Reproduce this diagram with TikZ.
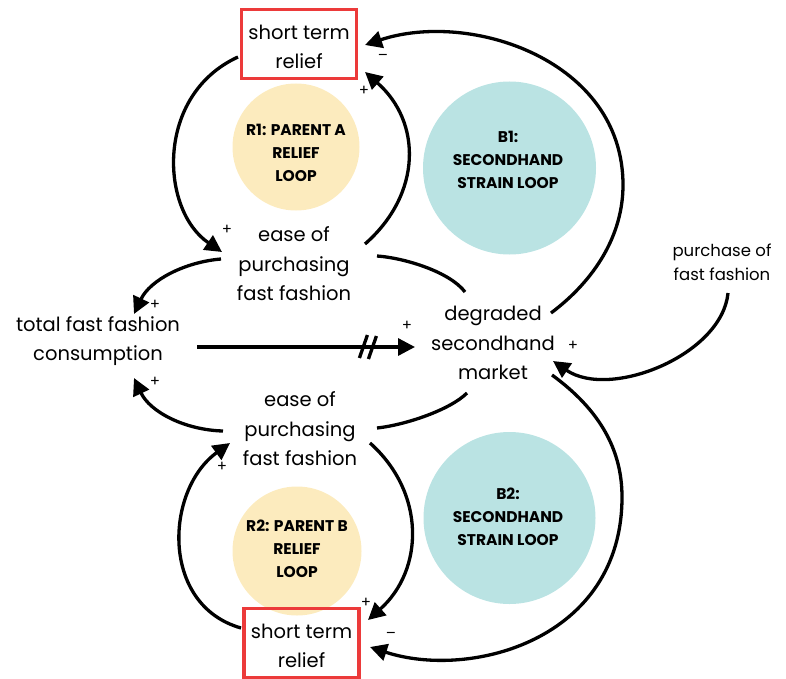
\documentclass[tikz,border=0pt]{standalone}
\usepackage{fontspec}
\setmainfont{Poppins}
\usetikzlibrary{arrows.meta}
\definecolor{reliefred}{RGB}{236,58,58}
\definecolor{loopyellow}{RGB}{252,235,190}
\definecolor{looptealc}{RGB}{186,227,227}
\begin{document}
\begin{tikzpicture}[x=1pt,y=-1pt,
  var/.style={align=center,inner sep=0pt,font=\fontsize{19.5}{29.5}\selectfont},
  smallvar/.style={align=center,inner sep=0pt,font=\fontsize{16.5}{24}\selectfont},
  reliefbox/.style={draw=reliefred,line width=3.5pt,minimum width=115pt,minimum height=69pt},
  loopbg/.style={circle,inner sep=0pt},
  looplabel/.style={align=center,inner sep=0pt,font=\fontsize{15.5}{23}\selectfont\bfseries},
  sign/.style={inner sep=0pt,font=\fontsize{15}{16}\selectfont},
  link/.style={line width=3.3pt},
  causal/.style={link,-{Triangle[length=17pt,width=17pt]}}
]
\useasboundingbox (0,0) rectangle (786,679);

% loop markers
\node[loopbg,fill=loopyellow,minimum size=127pt] (r1) at (296,147) {};
\node[looplabel] (r1t) at (296,153) {R1: PARENT A\\RELIEF\\LOOP};
\node[loopbg,fill=loopyellow,minimum size=129pt] (r2) at (297,551) {};
\node[looplabel] (r2t) at (297,549) {R2: PARENT B\\RELIEF\\LOOP};
\node[loopbg,fill=looptealc,minimum size=173pt] (b1) at (509.5,168) {};
\node[looplabel] (b1t) at (508,160) {B1:\\SECONDHAND\\STRAIN LOOP};
\node[loopbg,fill=looptealc,minimum size=172pt] (b2) at (509.5,518) {};
\node[looplabel] (b2t) at (508,517) {B2:\\SECONDHAND\\STRAIN LOOP};

% variables
\node[reliefbox] (topR) at (299,44) {};
\node[var] (topRt) at (299,47) {short term\\relief};
\node[reliefbox] (botR) at (301.5,643) {};
\node[var] (botRt) at (301.5,646) {short term\\relief};
\node[var] (easeU) at (294,264) {ease of\\purchasing\\fast fashion};
\node[var] (easeL) at (300,429) {ease of\\purchasing\\fast fashion};
\node[var] (total) at (98,341) {total fast fashion\\consumption};
\node[var] (degr) at (493,343) {degraded\\secondhand\\market};
\node[smallvar] (purch) at (722,262) {purchase of\\fast fashion};

% R1 loop
\draw[causal] ([shift={(-61,13)}]topR.center) .. controls +(-83,38) and +(-62,-42) .. ([shift={(-72,-12)}]easeU.center);
\draw[causal] ([shift={(71,-20)}]easeU.center) .. controls +(57,-50) and +(57,50) .. ([shift={(66,28)}]topR.center);
% B1 loop
\draw[causal] ([shift={(58,-30)}]degr.center) .. controls +(44,-33) and +(0,50) .. ++(72,-128)
  .. controls +(0,-125) and +(105,-35) .. ([shift={(66,1)}]topR.center);
% ease -> consumption
\draw[causal] ([shift={(-73,-5)}]easeU.center) .. controls +(-36,3) and +(16,-34) .. ([shift={(36,-27)}]total.center);
\draw[causal] ([shift={(-77,2)}]easeL.center) .. controls +(-38,-1) and +(16,34) .. ([shift={(36,37)}]total.center);
% degraded market <-> ease (no heads)
\draw[link] ([shift={(83,-8)}]easeU.center) .. controls +(28,2) and +(-15,-20) .. ([shift={(-28,-51)}]degr.center);
\draw[link] ([shift={(77,-1)}]easeL.center) .. controls +(28,-3) and +(-17,17) .. ([shift={(-26,50)}]degr.center);
% consumption -> degraded market, with delay
\draw[causal] ([shift={(99,6)}]total.center) -- coordinate[pos=0.784] (delay) ([shift={(-78,4)}]degr.center);
\draw[link] ([shift={(-8.5,11)}]delay) -- ([shift={(-0.5,-12)}]delay);
\draw[link] ([shift={(0.5,12)}]delay) -- ([shift={(8.5,-11)}]delay);
% purchase -> degraded market
\draw[causal] ([shift={(6,31)}]purch.center) .. controls +(-6,62) and +(57,39) .. ([shift={(60,18)}]degr.center);
% B2 loop
\draw[causal] ([shift={(59,32)}]degr.center) .. controls +(48,35) and +(0,-47) .. ++(70,122)
  .. controls +(0,143) and +(100,33) .. ([shift={(68.5,4)}]botR.center);
% R2 loop
\draw[causal] ([shift={(70,14)}]easeL.center) .. controls +(56,50) and +(56,-50) .. ([shift={(66.5,-23)}]botR.center);
\draw[causal] ([shift={(-60.5,-15)}]botR.center) .. controls +(-81,-23) and +(-65,47) .. ([shift={(-70,14)}]easeL.center);

% polarities
\node[sign] (p1) at (227,230) {+};
\node[sign] (p2) at (364,91) {+};
\node[sign] (m1) at (383,57) {–};
\node[sign] (p3) at (155,305) {+};
\node[sign] (p4) at (407,326) {+};
\node[sign] (p5) at (155,382) {+};
\node[sign] (p6) at (573,346) {+};
\node[sign] (p7) at (366,603) {+};
\node[sign] (m2) at (391,635) {–};
\node[sign] (p8) at (222,467) {+};
\end{tikzpicture}
\end{document}
